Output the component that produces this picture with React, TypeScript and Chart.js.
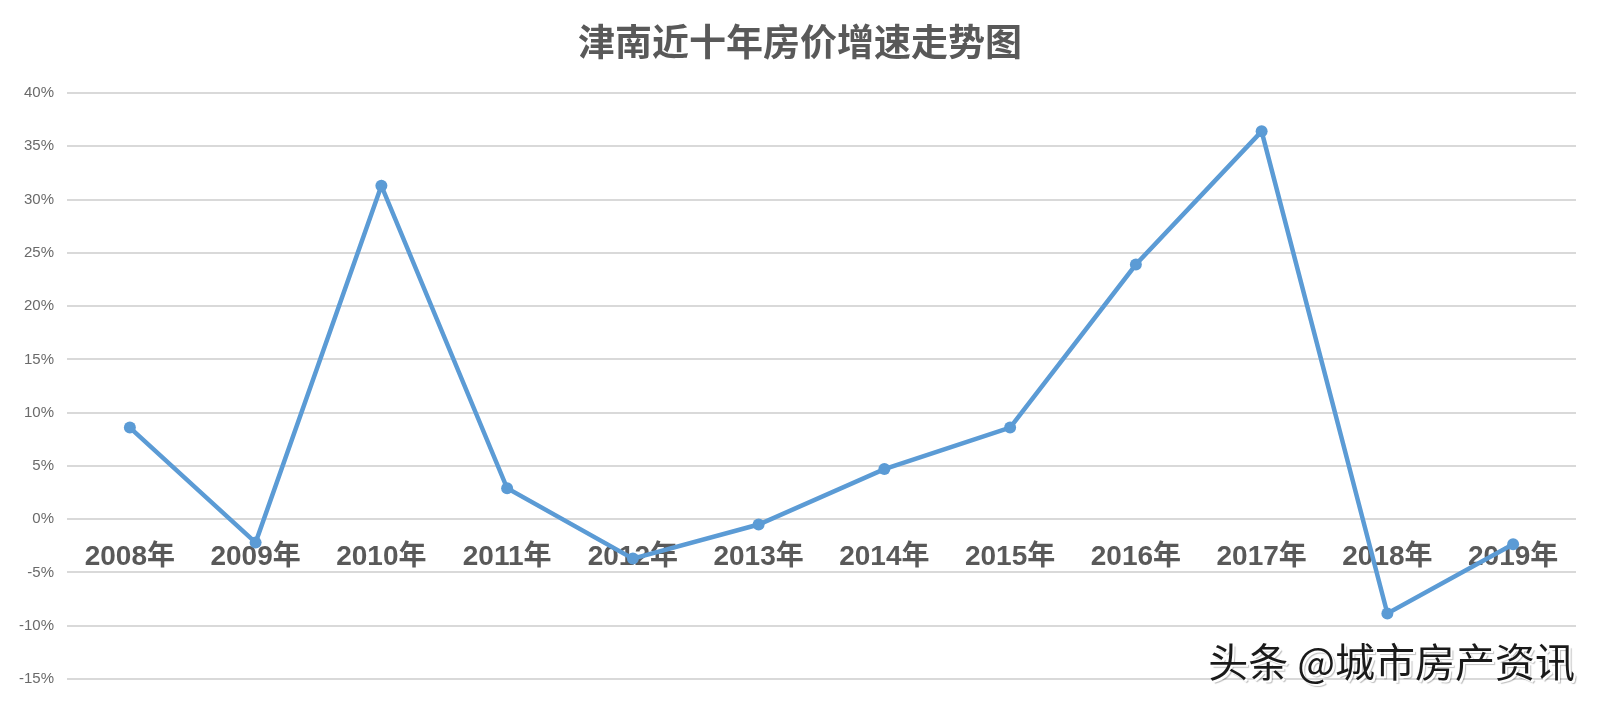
import React, { useEffect, useRef } from "react";
import { Chart, registerables } from "chart.js";

Chart.register(...registerables);

const TITLE = "津南近十年房价增速走势图";
const WATERMARK = "头条 @城市房产资讯";
const years = ["2008年", "2009年", "2010年", "2011年", "2012年", "2013年", "2014年", "2015年", "2016年", "2017年", "2018年", "2019年"];
const growth = [8.6, -2.2, 31.3, 2.9, -3.7, -0.5, 4.7, 8.6, 23.9, 36.4, -8.85, -2.35];
const yMin = -15;
const yMax = 40;
const yStep = 5;

const W = 1599;
const H = 702;
const LATIN = "'Liberation Sans', Arial, 'Noto Sans CJK SC', sans-serif";
const CJK = "'Noto Sans CJK SC', 'Liberation Sans', sans-serif";

const titlePlugin = {
  id: "customTitle",
  afterDraw(chart: any) {
    const ctx = chart.ctx;
    ctx.save();
    ctx.font = `bold 37px ${CJK}`;
    ctx.fillStyle = "#595959";
    ctx.textAlign = "center";
    ctx.textBaseline = "middle";
    ctx.fillText(TITLE, 800, 42);
    ctx.restore();
  },
};

export default function App() {
  const ref = useRef<HTMLCanvasElement | null>(null);

  useEffect(() => {
    if (!ref.current) return;
    const chart = new Chart(ref.current, {
      type: "line",
      data: {
        labels: years,
        datasets: [
          {
            data: growth,
            borderColor: "#5b9bd5",
            backgroundColor: "#5b9bd5",
            borderWidth: 4.5,
            pointRadius: 6,
            pointBackgroundColor: "#5b9bd5",
            pointBorderWidth: 0,
            tension: 0,
            fill: false,
          },
        ],
      },
      options: {
        responsive: false,
        animation: false,
        devicePixelRatio: 1,
        layout: { padding: { left: 0, right: 23, top: 93, bottom: 23 } },
        plugins: {
          legend: { display: false },
          title: { display: false },
          tooltip: { enabled: false },
        },
        scales: {
          x: {
            type: "category",
            offset: true,
            position: { y: 0 } as any,
            grid: { display: false, drawTicks: false },
            border: { display: false },
            ticks: {
              padding: 21,
              color: "#595959",
              font: { family: LATIN, size: 28, weight: "bold" },
              maxRotation: 0,
              autoSkip: false,
            },
          },
          y: {
            min: yMin,
            max: yMax,
            grid: { color: "#d9d9d9", lineWidth: 2, drawTicks: false },
            border: { display: false },
            afterFit: (scale: any) => {
              scale.width = 67;
            },
            ticks: {
              stepSize: yStep,
              padding: 13,
              color: "#6a6a6a",
              font: { family: LATIN, size: 15 },
              callback: (v: any) => `${v}%`,
            },
          },
        },
      },
      plugins: [titlePlugin],
    });
    return () => chart.destroy();
  }, []);

  return (
    <div style={{ position: "absolute", left: 0, top: 0, width: W, height: H, background: "#fff", overflow: "hidden" }}>
      <canvas ref={ref} width={W} height={H} style={{ display: "block", width: W, height: H }} />
      <div
        style={{
          position: "absolute",
          right: 24,
          top: 634,
          fontFamily: CJK,
          fontSize: 40,
          lineHeight: "52px",
          color: "#1a1a1a",
          whiteSpace: "nowrap",
          textShadow: "2px 2px 0 #ffffff, 3px 3px 1px rgba(0,0,0,0.25)",
        }}
      >
        {WATERMARK}
      </div>
    </div>
  );
}
